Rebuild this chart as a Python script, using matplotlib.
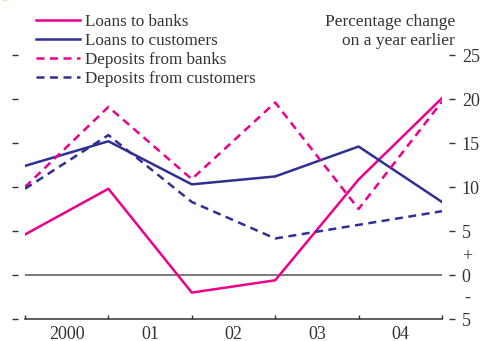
import matplotlib
matplotlib.use('Agg')
import matplotlib.pyplot as plt
from matplotlib.patches import Circle

#### Data ####
positions = [0, 1, 2, 3, 4, 5]
year_labels = ['2000', '01', '02', '03', '04']
loans_to_banks = [4.6, 9.8, -2.0, -0.6, 10.85, 20.1]
loans_to_customers = [12.4, 15.2, 10.3, 11.2, 14.6, 8.3]
deposits_from_banks = [10.0, 19.1, 10.9, 19.6, 7.5, 19.7]
deposits_from_customers = [9.8, 15.9, 8.3, 4.15, 5.7, 7.25]

y_ticks = [-5, 0, 5, 10, 15, 20, 25]
y_tick_labels = ['5', '0', '5', '10', '15', '20', '25']

PINK = '#ec008c'
NAVY = '#2e3192'
GREY = '#555555'
TEXT = '#333333'
FONT = 'Liberation Serif'

plt.rcParams['font.family'] = FONT

#### Figure ####
fig = plt.figure(figsize=(4.81, 3.41), dpi=100)
ax = fig.add_axes([25 / 481, 22 / 341, 417 / 481, 264 / 341])

dash = (0, (3.2, 2.2))
lw = 1.8
ax.plot(positions, loans_to_banks, color=PINK, lw=lw, label='Loans to banks')
ax.plot(positions, loans_to_customers, color=NAVY, lw=lw, label='Loans to customers')
ax.plot(positions, deposits_from_banks, color=PINK, lw=lw, ls=dash, label='Deposits from banks')
ax.plot(positions, deposits_from_customers, color=NAVY, lw=lw, ls=dash,
        label='Deposits from customers')

ax.axhline(0, color=GREY, lw=1.1, zorder=0)

ax.set_xlim(0, 5)
ax.set_ylim(-5, 25)

# bottom axis: year boundaries as ticks, labels centred in between
ax.spines['top'].set_visible(False)
ax.spines['bottom'].set_color(TEXT)
ax.spines['bottom'].set_linewidth(1.1)
ax.set_xticks(positions)
ax.set_xticklabels([])
ax.set_xticks([p + 0.5 for p in positions[:-1]], minor=True)
ax.set_xticklabels(year_labels, minor=True)
ax.tick_params(axis='x', which='major', direction='in', length=3, width=1.0, color=TEXT)
ax.tick_params(axis='x', which='minor', length=0, pad=5, labelsize=13, labelcolor=TEXT)

# y ticks on both sides, set a little away from the plot
ax.set_yticks(y_ticks)
ax.set_yticklabels(y_tick_labels)
ax.tick_params(axis='y', left=True, right=True, labelleft=False, labelright=True,
               direction='out', length=4.3, width=1.0, color=TEXT, pad=5,
               labelsize=13, labelcolor=TEXT)
for side in ['left', 'right']:
    ax.spines[side].set_position(('outward', 5))
    ax.spines[side].set_color('none')

# sign markers either side of zero
ax.text(1.0 + 20 / 417, 2.1, '+', transform=ax.get_yaxis_transform(),
        fontsize=13, color=TEXT, ha='left', va='center')
ax.text(1.0 + 22 / 417, -2.6, '-', transform=ax.get_yaxis_transform(),
        fontsize=13, color=TEXT, ha='left', va='center')

fig.text(455 / 481, 1 - 22 / 341, 'Percentage change', ha='right', va='center',
         fontsize=12.5, color=TEXT)
fig.text(455 / 481, 1 - 41 / 341, 'on a year earlier', ha='right', va='center',
         fontsize=12.5, color=TEXT)

leg = fig.legend(loc='upper left', bbox_to_anchor=(36 / 481, 1 - 14 / 341),
                 frameon=False, fontsize=12.3, handlelength=2.6, handletextpad=0.25,
                 labelspacing=0.17, borderpad=0, borderaxespad=0)
for text in leg.get_texts():
    text.set_color(TEXT)

fig.patches.append(Circle((5 / 481, 1 + 6 / 341), 8 / 481, transform=fig.transFigure,
                          color='#f39200', clip_on=False))

fig.savefig('out.png', dpi=100)
